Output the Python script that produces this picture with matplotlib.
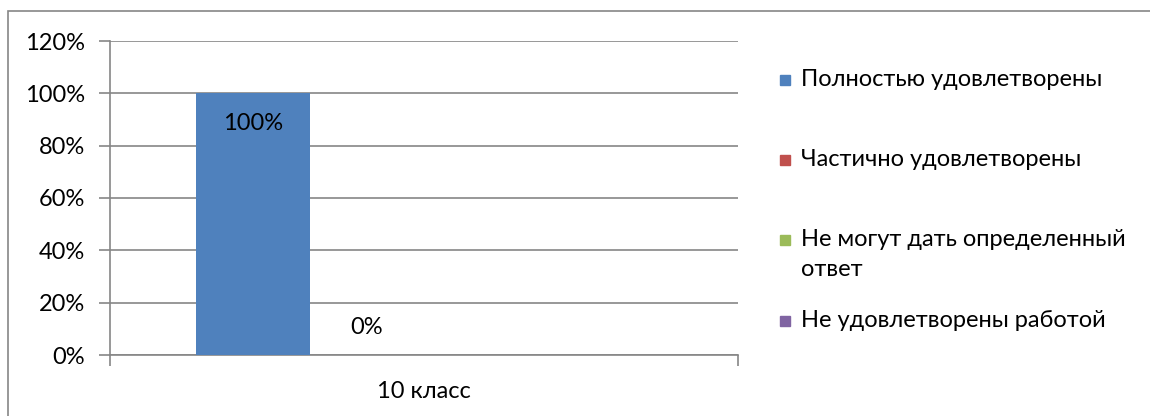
import matplotlib.pyplot as plt
from matplotlib.patches import Rectangle

plt.rcParams['font.family'] = ['Lato', 'DejaVu Sans']

# data
categories = ['10 класс']
series_names = ['Полностью удовлетворены', 'Частично удовлетворены',
                'Не могут дать определенный\nответ', 'Не удовлетворены работой']
series_values = [100, 0, 0, 0]
series_labels = ['100%', '0%', '', '']
colors = ['#4F81BD', '#C0504D', '#9BBB59', '#8064A2']
grid_color = '#868686'
fs = 17

fig = plt.figure(figsize=(11.5, 4.16), dpi=100)
ax = fig.add_axes([110 / 1150, 1 - 355 / 416, 628 / 1150, 314 / 416])

# excel clustered column, gap width 150%
n = len(series_values)
w = 1 / (n + 1.5)
for i, (val, col, lab) in enumerate(zip(series_values, colors, series_labels)):
    x = (i - (n - 1) / 2) * w
    ax.bar(x, val, width=w, color=col, zorder=3)
    if lab:
        if val > 10:
            ax.text(x, val - 11.5, lab, ha='center', va='center', fontsize=fs, zorder=4)
        else:
            ax.text(x, val + 10.5, lab, ha='center', va='center', fontsize=fs, zorder=4)

ax.set_xlim(-0.5, 0.5)
ax.set_ylim(0, 120)
ax.set_yticks(range(0, 121, 20))
ax.set_yticklabels([f'{v}%' for v in range(0, 121, 20)], fontsize=fs)
ax.yaxis.grid(True, color=grid_color, linewidth=1.2, zorder=0)
ax.set_xticks([0])
ax.set_xticklabels(categories, fontsize=fs)
ax.set_xticks([-0.5, 0.5], minor=True)
ax.tick_params(axis='x', which='major', length=0, pad=19)
ax.tick_params(axis='x', which='minor', length=8, color=grid_color, width=1.2)
ax.tick_params(axis='y', length=8, color=grid_color, width=1.2, pad=10)
for s in ['top', 'right']:
    ax.spines[s].set_visible(False)
for s in ['left', 'bottom']:
    ax.spines[s].set_color(grid_color)
    ax.spines[s].set_linewidth(1.2)

# legend, placed like excel (y = centre of first line)
leg_y = [80, 160, 240, 321]
for name, col, y in zip(series_names, colors, leg_y):
    fig.patches.append(Rectangle((780 / 1150, 1 - (y + 5) / 416), 10 / 1150, 10 / 416,
                                 transform=fig.transFigure, color=col))
    fig.text(801 / 1150, 1 - (y - 11) / 416, name, ha='left', va='top', fontsize=fs,
             linespacing=1.5)

# outer chart border
fig.patches.append(Rectangle((8 / 1150, -0.01), 1.01, 1 - 11 / 416 + 0.01,
                             transform=fig.transFigure, fill=False,
                             edgecolor=grid_color, linewidth=1.2))

fig.savefig('out.png', dpi=100)
